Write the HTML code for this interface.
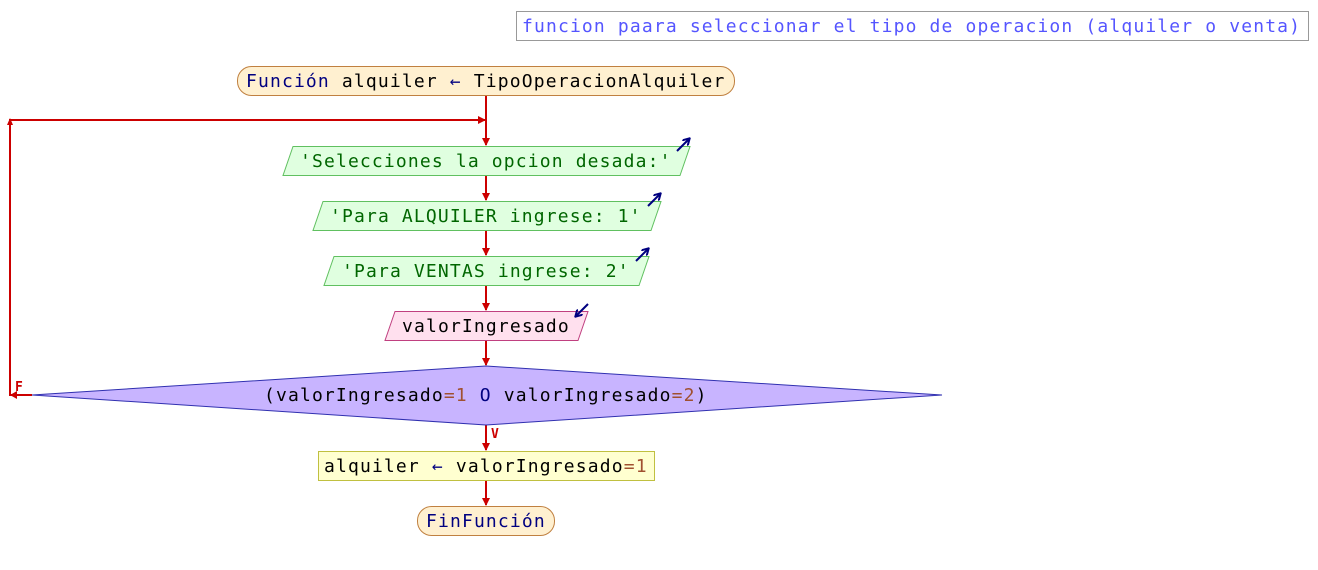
<!DOCTYPE html>
<html><head><meta charset="utf-8"><style>
html,body{margin:0;padding:0;background:#fff;}
svg{display:block}
text{font-family:"DejaVu Sans Mono","Liberation Mono",monospace;font-size:18px;letter-spacing:1.15px;}
</style></head><body>
<svg width="1318" height="570" xmlns="http://www.w3.org/2000/svg">
<defs>
<marker id="ar" markerWidth="8" markerHeight="8" refX="7" refY="4" orient="auto" markerUnits="userSpaceOnUse"><path d="M0,0 L8,4 L0,8 z" fill="#cc0000"/></marker>
<marker id="bl" markerWidth="8" markerHeight="8" refX="6" refY="4" orient="auto" markerUnits="userSpaceOnUse"><path d="M0,0 L7,4 L0,8" fill="none" stroke="#000080" stroke-width="2"/></marker>
</defs>
<rect x="516.5" y="11.5" width="792" height="29" fill="#fff" stroke="#999"/>
<text x="522" y="32" fill="#5555ff">funcion paara seleccionar el tipo de operacion (alquiler o venta)</text>

<g stroke="#cc0000" stroke-width="2" fill="none">
<line x1="486" y1="95" x2="486" y2="145" marker-end="url(#ar)"/>
<polyline points="32,395 10,395 10,120 485,120" marker-end="url(#ar)"/>
<line x1="486" y1="175" x2="486" y2="200" marker-end="url(#ar)"/>
<line x1="486" y1="230" x2="486" y2="255" marker-end="url(#ar)"/>
<line x1="486" y1="285" x2="486" y2="310" marker-end="url(#ar)"/>
<line x1="486" y1="340" x2="486" y2="365" marker-end="url(#ar)"/>
<line x1="486" y1="425" x2="486" y2="450" marker-end="url(#ar)"/>
<line x1="486" y1="480" x2="486" y2="505" marker-end="url(#ar)"/>
</g>
<path d="M10,118 l-3,7 h6z" fill="#cc0000"/>
<path d="M10,395 l7,-4 v8z" fill="#cc0000"/>

<rect x="237.5" y="66.5" width="497" height="29" rx="14" fill="#fff0d0" stroke="#c08040"/>
<text x="246" y="87"><tspan fill="#000080">Función</tspan> alquiler <tspan fill="#000080">←</tspan> TipoOperacionAlquiler</text>

<polygon points="293,146.5 690,146.5 680,175.5 283,175.5" fill="#e0ffe0" stroke="#60c060"/>
<text x="300" y="167" fill="#006600">'Selecciones la opcion desada:'</text>
<line x1="677" y1="151" x2="689" y2="139" stroke="#000080" stroke-width="2" marker-end="url(#bl)"/>

<polygon points="323,201.5 661,201.5 651,230.5 313,230.5" fill="#e0ffe0" stroke="#60c060"/>
<text x="330" y="222" fill="#006600">'Para ALQUILER ingrese: 1'</text>
<line x1="648" y1="206" x2="660" y2="194" stroke="#000080" stroke-width="2" marker-end="url(#bl)"/>

<polygon points="334,256.5 649,256.5 639,285.5 324,285.5" fill="#e0ffe0" stroke="#60c060"/>
<text x="342" y="277" fill="#006600">'Para VENTAS ingrese: 2'</text>
<line x1="636" y1="261" x2="648" y2="249" stroke="#000080" stroke-width="2" marker-end="url(#bl)"/>

<polygon points="395,311.5 588,311.5 578,340.5 385,340.5" fill="#ffe0ee" stroke="#c04080"/>
<text x="402" y="332" fill="#000">valorIngresado</text>
<line x1="588" y1="304" x2="576" y2="316" stroke="#000080" stroke-width="2" marker-end="url(#bl)"/>

<polygon points="486,366 942,395 486,425 32,395" fill="#c8b4ff" stroke="#3030b0"/>
<text x="264" y="401">(valorIngresado<tspan fill="#a05030">=1</tspan> <tspan fill="#000080">O</tspan> valorIngresado<tspan fill="#a05030">=2</tspan>)</text>
<text x="15" y="391" fill="#cc0000" style="font-size:13px;font-weight:bold;letter-spacing:0">F</text>
<text x="491" y="438" fill="#cc0000" style="font-size:13px;font-weight:bold;letter-spacing:0">V</text>

<rect x="318.5" y="451.5" width="336" height="29" fill="#ffffd0" stroke="#c0c040"/>
<text x="324" y="472">alquiler <tspan fill="#000080">←</tspan> valorIngresado<tspan fill="#a05030">=1</tspan></text>

<rect x="417.5" y="506.5" width="137" height="29" rx="14" fill="#fff0d0" stroke="#c08040"/>
<text x="426" y="527" fill="#000080">FinFunción</text>
</svg>
</body></html>
